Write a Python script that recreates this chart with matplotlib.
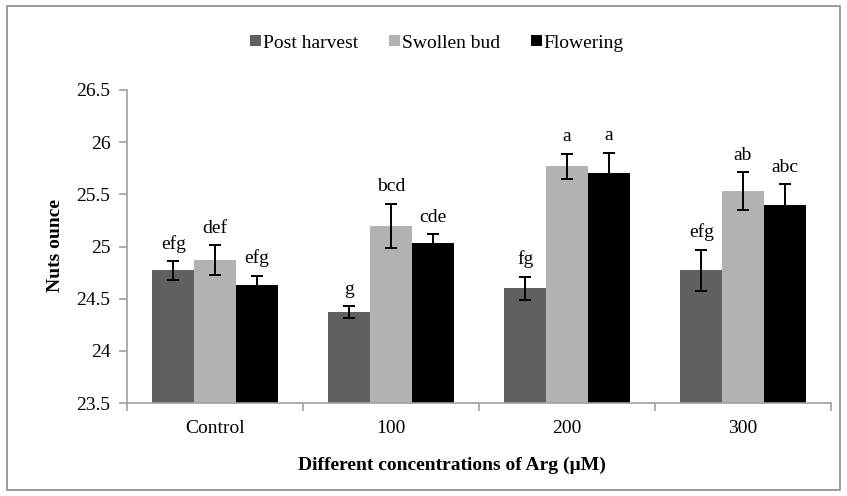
import numpy as np
import matplotlib.pyplot as plt
from matplotlib.patches import Rectangle

# --- Data ---
categories = ["Control", "100", "200", "300"]
series_names = ["Post harvest", "Swollen bud", "Flowering"]
post_harvest = [24.77, 24.37, 24.60, 24.77]
swollen_bud = [24.87, 25.20, 25.77, 25.53]
flowering = [24.63, 25.03, 25.70, 25.40]
err_post_harvest = [0.09, 0.06, 0.11, 0.20]
err_swollen_bud = [0.14, 0.21, 0.12, 0.18]
err_flowering = [0.09, 0.09, 0.20, 0.20]
lab_post_harvest = ["efg", "g", "fg", "efg"]
lab_swollen_bud = ["def", "bcd", "a", "ab"]
lab_flowering = ["efg", "cde", "a", "abc"]

colors = ["#606060", "#b2b2b2", "#000000"]

plt.rcParams['font.family'] = ['Liberation Serif', 'DejaVu Serif']

fig = plt.figure(figsize=(8.47, 4.96), dpi=100)
ax = fig.add_axes([127 / 847, 1 - 403 / 496, 704 / 847, 313 / 496])

# outer frame of the chart area
fig.patches.append(Rectangle((7 / 847, 6 / 496), 833 / 847, 484 / 496,
                             transform=fig.transFigure, fill=False,
                             edgecolor="#8c8c8c", linewidth=1.2))

x = np.arange(len(categories))
width = 0.237
values = [post_harvest, swollen_bud, flowering]
errors = [err_post_harvest, err_swollen_bud, err_flowering]
labels = [lab_post_harvest, lab_swollen_bud, lab_flowering]

for i in range(3):
    pos = x + (i - 1) * width
    ax.bar(pos, values[i], width, bottom=0, color=colors[i],
           label=series_names[i], zorder=2)
    ax.errorbar(pos, values[i], yerr=errors[i], fmt='none', ecolor='black',
                elinewidth=1.4, capsize=4.5, capthick=1.4, zorder=3)
    for p, v, e, t in zip(pos, values[i], errors[i], labels[i]):
        ax.annotate(t, (p, v + e), xytext=(0, 6), textcoords='offset points',
                    ha='center', va='bottom', fontsize=14)

ax.set_ylim(23.5, 26.5)
ax.set_yticks(np.arange(23.5, 26.51, 0.5))
ax.set_yticklabels(["23.5", "24", "24.5", "25", "25.5", "26", "26.5"])
ax.set_xlim(-0.5, len(categories) - 0.5)
ax.set_xticks(x)
ax.set_xticklabels(categories)
ax.set_xticks(np.arange(-0.5, len(categories), 1), minor=True)
ax.tick_params(axis='x', which='major', length=0, labelsize=14, pad=12)
ax.tick_params(axis='x', which='minor', length=6, color='#a0a0a0', width=1.2)
ax.tick_params(axis='y', length=6, color='#a0a0a0', width=1.2, labelsize=14, pad=6)

for s in ['top', 'right']:
    ax.spines[s].set_visible(False)
for s in ['left', 'bottom']:
    ax.spines[s].set_color('#a0a0a0')
    ax.spines[s].set_linewidth(1.2)

fig.text(55 / 847, 1 - 246 / 496, "Nuts ounce", rotation=90, ha='center',
         va='center', fontsize=14, fontweight='bold')
fig.text(452 / 847, 1 - 465 / 496, "Different concentrations of Arg (\u00b5M)",
         ha='center', va='center', fontsize=14, fontweight='bold')

fig.legend(loc='center', bbox_to_anchor=(437 / 847, 1 - 43 / 496), ncol=3,
           frameon=False, fontsize=14, handlelength=0.55, handleheight=0.55,
           handletextpad=0.1, columnspacing=1.6)

fig.savefig("out.png", dpi=100)
